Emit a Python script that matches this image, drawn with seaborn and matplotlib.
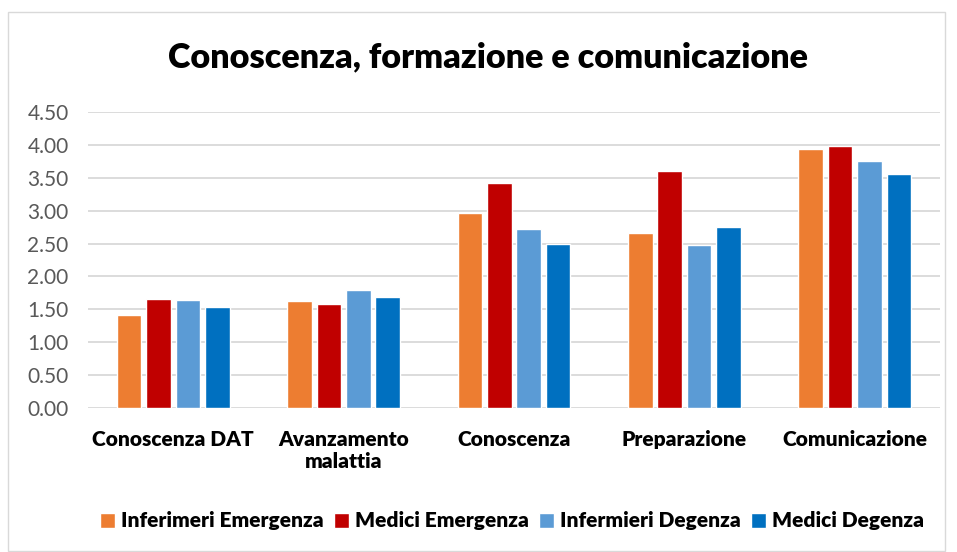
import pandas as pd
import seaborn as sns
import matplotlib.pyplot as plt
from matplotlib.patches import Rectangle

# data
categories = ["Conoscenza DAT", "Avanzamento\nmalattia", "Conoscenza", "Preparazione", "Comunicazione"]
groups = ["Inferimeri Emergenza", "Medici Emergenza", "Infermieri Degenza", "Medici Degenza"]
inf_emergenza = [1.41, 1.62, 2.97, 2.66, 3.93]
med_emergenza = [1.66, 1.58, 3.42, 3.60, 3.98]
inf_degenza = [1.64, 1.80, 2.72, 2.48, 3.76]
med_degenza = [1.53, 1.69, 2.49, 2.75, 3.55]
colors = ["#ED7D31", "#C00000", "#5B9BD5", "#0070C0"]

df = pd.DataFrame({
    "cat": categories * 4,
    "group": sum([[g] * 5 for g in groups], []),
    "val": inf_emergenza + med_emergenza + inf_degenza + med_degenza,
})

sns.set_style("white")
plt.rcParams['font.family'] = ['Lato', 'DejaVu Sans']
plt.rcParams['text.color'] = 'black'

fig = plt.figure(figsize=(9.57, 5.52), dpi=100)
ax = fig.add_axes([88/957, 1 - 408/552, 852/957, 296/552])

sns.barplot(data=df, x="cat", y="val", hue="group", palette=colors,
            width=0.69, gap=0.16, ax=ax, legend=True, saturation=1)

ax.set_ylim(0, 4.5)
ax.set_xlim(-0.5, 4.5)
ax.set_yticks([i * 0.5 for i in range(10)])
ax.set_yticklabels([f"{i * 0.5:.2f}" for i in range(10)], fontsize=15, color="#595959")
ax.set_xticks(range(5))
ax.set_xticklabels(categories, fontsize=15, fontweight="heavy", color="black")
ax.tick_params(axis="x", length=0, pad=16)
ax.tick_params(axis="y", length=0, pad=14)
ax.yaxis.grid(True, color="#d9d9d9", linewidth=1.3)
ax.set_axisbelow(True)
for s in ax.spines.values():
    s.set_visible(False)
ax.set_xlabel("")
ax.set_ylabel("")

fig.text(488/957, 1 - 57/552, "Conoscenza, formazione e comunicazione",
         ha="center", va="center", fontsize=24.6, fontweight="heavy", color="black")

handles, labels = ax.get_legend_handles_labels()
ax.legend_.remove()
fig.legend(handles, labels, loc="center", bbox_to_anchor=(512/957, 1 - 521/552),
           ncol=4, frameon=False, handlelength=0.7, handleheight=0.7,
           handletextpad=0.3, columnspacing=0.5,
           prop={"weight": "heavy", "size": 15}, labelcolor="black")

fig.patches.append(Rectangle((8/957, 0.002), 937/957, 1 - 12/552 - 0.002,
                             transform=fig.transFigure, fill=False,
                             edgecolor="#d9d9d9", linewidth=1))

fig.savefig("out.png", dpi=100)
